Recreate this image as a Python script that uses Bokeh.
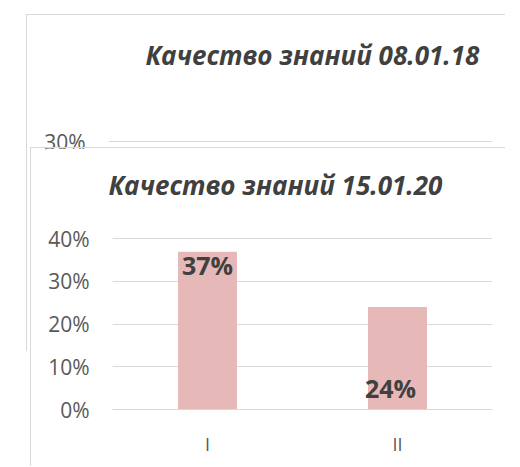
from bokeh.plotting import figure
from bokeh.models import (Range1d, FixedTicker, NumeralTickFormatter,
                          ColumnDataSource, LabelSet)
from bokeh.core.properties import value
from bokeh.layouts import column
from bokeh.embed import file_html
from bokeh.resources import INLINE

# ---- data ----
back_title = "Качество знаний 08.01.18"
back_ticks = [0.3]
front_title = "Качество знаний 15.01.20"
categories = ["I", "II"]
values = [0.37, 0.24]
value_labels = ["37%", "24%"]
front_ticks = [0.0, 0.1, 0.2, 0.3, 0.4]

# ---- styles ----
FONT = "Open Sans"
GRID = "#D9D9D9"
TEXT = "#404040"
TICK = "#595959"
BAR = "#E6B8B7"
BORDER = "#D9D9D9"

# category slots (centre of each category on a numeric axis)
cat_x = [i + 0.5 for i in range(len(categories))]

# chart-area look: white inner left band, thin grey edge on left/top
CHART_STYLE = {"border-left": "14px solid white",
               "box-shadow": f"-1px -1px 0 {BORDER}"}


def style_value_axis(p, ticks):
    ax = p.left[0]
    ax.ticker = FixedTicker(ticks=ticks)
    ax.formatter = NumeralTickFormatter(format="0%")
    ax.axis_line_color = None
    ax.major_tick_line_color = None
    ax.major_tick_out = 0
    ax.major_tick_in = 0
    ax.minor_tick_line_color = None
    ax.major_label_standoff = 23
    ax.major_label_text_font = FONT
    ax.major_label_text_font_size = "21px"
    ax.major_label_text_color = TICK
    p.ygrid.ticker = FixedTicker(ticks=ticks)
    p.ygrid.grid_line_color = GRID
    p.ygrid.grid_line_width = 1
    p.xgrid.grid_line_color = None
    p.outline_line_color = None


def style_title(p, text, offset, standoff):
    p.title.text = text
    p.title.align = "left"
    p.title.offset = offset
    p.title.standoff = standoff
    p.title.text_font = FONT
    p.title.text_font_style = "bold italic"
    p.title.text_font_size = "26px"
    p.title.text_color = TEXT


# ---- back chart (mostly hidden behind the front one) ----
pb = figure(width=479, height=337, output_backend="svg", toolbar_location=None,
            x_range=Range1d(0, 1), y_range=Range1d(0, 0.4151),
            x_axis_location=None,
            min_border_left=0, min_border_right=28,
            min_border_top=0, min_border_bottom=83)
style_value_axis(pb, back_ticks)
style_title(pb, back_title, 37, 39)
pb.margin = (15, 0, 0, 27)
pb.styles = CHART_STYLE

# ---- front chart ----
pf = figure(width=475, height=319, output_backend="svg", toolbar_location=None,
            x_range=Range1d(0, len(categories)),
            y_range=Range1d(0, 0.4453),
            min_border_left=0, min_border_right=28,
            min_border_top=0, min_border_bottom=58)
style_value_axis(pf, front_ticks)
style_title(pf, front_title, -4, 33)

xa = pf.below[0]
xa.ticker = FixedTicker(ticks=cat_x)
xa.major_label_overrides = {x: c for x, c in zip(cat_x, categories)}
xa.axis_line_color = GRID
xa.major_tick_line_color = None
xa.major_tick_out = 0
xa.major_tick_in = 0
xa.minor_tick_line_color = None
xa.minor_tick_out = 0
xa.major_label_standoff = 22
xa.major_label_text_font = FONT
xa.major_label_text_font_size = "18px"
xa.major_label_text_color = TICK

src = ColumnDataSource(dict(x=cat_x, val=values))
pf.vbar(x="x", top="val", width=0.31, source=src, fill_color=BAR, line_color=None)

# first bar label: inside end; second bar label: inside base
src1 = ColumnDataSource(dict(x=cat_x[:1], val=values[:1], lab=value_labels[:1]))
src2 = ColumnDataSource(dict(x=cat_x[1:], val=[0] * len(values[1:]), lab=value_labels[1:]))
for s, baseline, yoff, xoff in ((src1, "top", 4, 0), (src2, "bottom", 5, -7)):
    pf.add_layout(LabelSet(x="x", y="val", text="lab", source=s,
                           text_align="center", text_baseline=baseline,
                           y_offset=yoff, x_offset=xoff,
                           text_font=value(FONT), text_font_style="bold",
                           text_font_size="25px", text_color=TEXT))

pf.margin = (-204, 0, 0, 31)
pf.styles = CHART_STYLE

layout = column(pb, pf)
open("out.html", "w").write(file_html(layout, INLINE))
